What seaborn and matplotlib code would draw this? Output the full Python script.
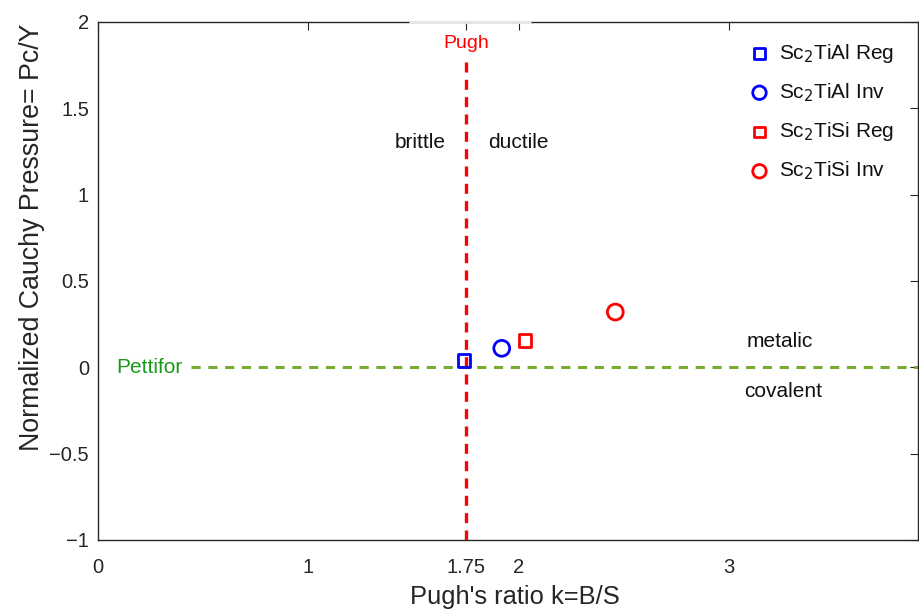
import matplotlib
matplotlib.use("Agg")
import matplotlib.pyplot as plt
import seaborn as sns
import pandas as pd

# Pugh's ratio (B/S) and normalized Cauchy pressure for each structure
labels = ["Sc$_2$TiAl Reg", "Sc$_2$TiAl Inv", "Sc$_2$TiSi Reg", "Sc$_2$TiSi Inv"]
pugh_ratio = [1.74, 1.92, 2.03, 2.46]
cauchy_norm = [0.04, 0.11, 0.155, 0.32]
colors = ["#0000ff", "#0000ff", "#ff0000", "#ff0000"]
markers = ["s", "o", "s", "o"]
sizes = [80, 130, 80, 130]

pugh_limit = 1.75
pettifor_limit = 0.0

x_ticks = [0, 1, 1.75, 2, 3]
x_ticklabels = ["0", "1", "1.75", "2", "3"]
y_ticks = [-1, -0.5, 0, 0.5, 1, 1.5, 2]
y_ticklabels = ["\u22121", "\u22120.5", "0", "0.5", "1", "1.5", "2"]

df = pd.DataFrame({"label": labels, "k": pugh_ratio, "pc": cauchy_norm})

sns.set_style("white")
plt.rcParams["font.family"] = ["Liberation Sans", "DejaVu Sans"]

fig = plt.figure(figsize=(9.2, 6.1), dpi=100)
ax = fig.add_axes([0.1065, 0.1148, 0.8915, 0.8492])

for i, row in df.iterrows():
    sns.scatterplot(data=df.iloc[[i]], x="k", y="pc", ax=ax,
                    marker=markers[i], s=sizes[i], facecolor="none",
                    edgecolor=colors[i], linewidth=2.0, label=row["label"],
                    zorder=5)

# Criterion lines
ax.plot([pugh_limit, pugh_limit], [-1, 1.78], color="#ff0000", ls=(0, (3, 2.2)),
        lw=2.4, zorder=3)
ax.plot([0.44, 3.9], [pettifor_limit, pettifor_limit], color="#77ac30",
        ls=(0, (3, 2.5)), lw=2.2, zorder=2)

# light gap in the top frame behind the Pugh label
ax.plot([1.48, 2.06], [2, 2], color="#e6e6e6", lw=2.0, clip_on=False,
        zorder=3, solid_capstyle="butt")

ax.text(pugh_limit, 1.875, "Pugh", color="#ff0000", fontsize=14, ha="center",
        va="center", zorder=6)
ax.text(0.245, 0.0, "Pettifor", color="#1a9a1a", fontsize=15, ha="center",
        va="center")
ax.text(1.53, 1.30, "brittle", color="#111111", fontsize=15, ha="center",
        va="center")
ax.text(2.0, 1.30, "ductile", color="#111111", fontsize=15, ha="center",
        va="center")
ax.text(3.24, 0.15, "metalic", color="#111111", fontsize=15, ha="center",
        va="center")
ax.text(3.26, -0.14, "covalent", color="#111111", fontsize=15, ha="center",
        va="center")

ax.set_xlim(0, 3.9)
ax.set_ylim(-1, 2)
ax.set_xticks(x_ticks)
ax.set_xticklabels(x_ticklabels)
ax.set_yticks(y_ticks)
ax.set_yticklabels(y_ticklabels)
ax.tick_params(direction="in", length=6, width=0.8, color="#262626",
               labelsize=14.5, labelcolor="#262626", top=True, right=True)
ax.tick_params(axis="x", pad=13)
ax.tick_params(axis="y", pad=6.5)
for sp in ax.spines.values():
    sp.set_color("#262626")
    sp.set_linewidth(1.0)

ax.set_xlabel("Pugh's ratio k=B/S", fontsize=18.4, color="#262626")
ax.xaxis.set_label_coords(0.508, -0.087)
ax.set_ylabel("Normalized Cauchy Pressure= Pc/Y", fontsize=19.3,
              color="#262626")
ax.yaxis.set_label_coords(-0.065, 0.585)

leg = ax.legend(loc="upper right", frameon=False, fontsize=15,
                handletextpad=0.15, labelspacing=0.79, handlelength=1.6,
                bbox_to_anchor=(0.994, 0.998), markerscale=0.85)
for t in leg.get_texts():
    t.set_color("#111111")

fig.savefig("out.png", dpi=100)
